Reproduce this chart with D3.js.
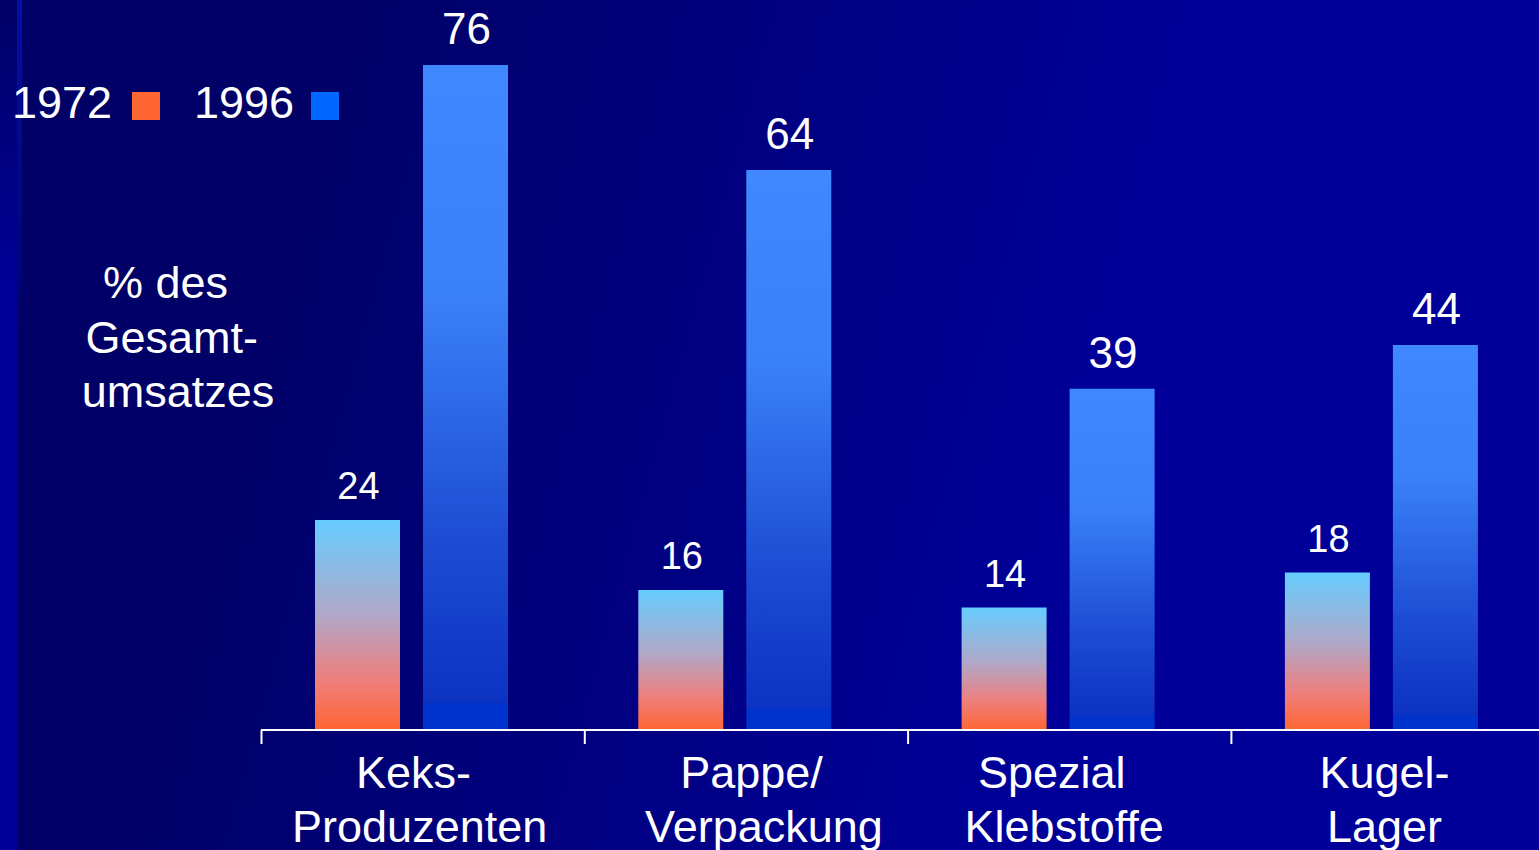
<!DOCTYPE html>
<html>
<head>
<meta charset="utf-8">
<script src="https://cdn.jsdelivr.net/npm/d3@7"></script>
<style>
  html, body { margin: 0; padding: 0; background: #000066; overflow: hidden; }
  svg { display: block; font-family: "Liberation Sans", Arial, sans-serif; }
</style>
</head>
<body>
<svg width="1539" height="850"></svg>
<script>
// data
var categories = ["Keks-\u00a0|Produzenten", "Pappe/\u00a0\u00a0|Verpackung", "Spezial\u00a0\u00a0|Klebstoffe", "Kugel-|Lager"];
var series = ["1972", "1996"];
var values1972 = [24, 16, 14, 18];
var values1996 = [76, 64, 39, 44];
var titleLines = ["% des\u00a0\u00a0", "Gesamt-\u00a0", "umsatzes"];

var W = 1539, H = 850;
// small nudges of the category text as on the slide
var labelShift = [-3, 18, -5, -8];

var svg = d3.select("svg");
var defs = svg.append("defs");

// background: dark navy on the left, brighter blue to the right
var bg = defs.append("linearGradient").attr("id", "bg")
  .attr("x1", "0").attr("y1", "0").attr("x2", "1").attr("y2", "0.15");
bg.append("stop").attr("offset", "0.2").attr("stop-color", "#000066");
bg.append("stop").attr("offset", "0.5").attr("stop-color", "#000080");
bg.append("stop").attr("offset", "0.78").attr("stop-color", "#000099");
bg.append("stop").attr("offset", "1").attr("stop-color", "#000099");

var strip = defs.append("linearGradient").attr("id", "strip")
  .attr("x1", "0").attr("y1", "0").attr("x2", "0").attr("y2", "1");
strip.append("stop").attr("offset", "0").attr("stop-color", "#000066");
strip.append("stop").attr("offset", "0.35").attr("stop-color", "#000099");
strip.append("stop").attr("offset", "1").attr("stop-color", "#000099");

var edge = defs.append("linearGradient").attr("id", "edge")
  .attr("x1", "0").attr("y1", "0").attr("x2", "0").attr("y2", "1");
edge.append("stop").attr("offset", "0").attr("stop-color", "#0011aa");
edge.append("stop").attr("offset", "0.4").attr("stop-color", "#000066");

var g72 = defs.append("linearGradient").attr("id", "g1972")
  .attr("x1", "0").attr("y1", "0").attr("x2", "0").attr("y2", "1");
g72.append("stop").attr("offset", "0").attr("stop-color", "#66ccff");
g72.append("stop").attr("offset", "0.45").attr("stop-color", "#b0a8c8");
g72.append("stop").attr("offset", "0.75").attr("stop-color", "#ec8080");
g72.append("stop").attr("offset", "1").attr("stop-color", "#ff6633");

var g96 = defs.append("linearGradient").attr("id", "g1996")
  .attr("x1", "0").attr("y1", "0").attr("x2", "0").attr("y2", "1");
g96.append("stop").attr("offset", "0").attr("stop-color", "#4088ff");
g96.append("stop").attr("offset", "0.35").attr("stop-color", "#3a80f8");
g96.append("stop").attr("offset", "0.7").attr("stop-color", "#1e4ed4");
g96.append("stop").attr("offset", "0.96").attr("stop-color", "#0c32c2");
g96.append("stop").attr("offset", "0.96").attr("stop-color", "#0033cc");
g96.append("stop").attr("offset", "1").attr("stop-color", "#0033cc");

svg.append("rect").attr("width", W).attr("height", H).attr("fill", "url(#bg)");
svg.append("rect").attr("width", 17).attr("height", H).attr("fill", "url(#strip)");
svg.append("rect").attr("x", 17).attr("width", 5).attr("height", H).attr("fill", "url(#edge)");

var baseY = 730;
var x = d3.scaleBand().domain(categories).range([261, 261 + 4 * 323.3]);
var xs = d3.scaleBand().domain(series).range([54, 247]).paddingInner(23 / 108);
var y = d3.scaleLinear().domain([0, 76]).range([baseY, 65]);

var rows = categories.map(function(c, i) {
  return [
    { cat: c, s: "1972", v: values1972[i] },
    { cat: c, s: "1996", v: values1996[i] }
  ];
});

var groups = svg.append("g").selectAll("g").data(rows).join("g")
  .attr("transform", function(d) { return "translate(" + x(d[0].cat) + ",0)"; });

groups.selectAll("rect").data(function(d) { return d; }).join("rect")
  .attr("x", function(d) { return xs(d.s); })
  .attr("y", function(d) { return y(d.v); })
  .attr("width", xs.bandwidth())
  .attr("height", function(d) { return baseY - y(d.v); })
  .attr("fill", function(d) { return "url(#g" + d.s + ")"; });

groups.selectAll("text").data(function(d) { return d; }).join("text")
  .attr("x", function(d) { return xs(d.s) + xs.bandwidth() / 2 + 1; })
  .attr("y", function(d) { return y(d.v) - 21; })
  .attr("text-anchor", "middle")
  .attr("fill", "#fff")
  .attr("font-size", function(d) { return d.s == "1972" ? 38 : 44; })
  .text(function(d) { return d.v; });

// category axis
var axis = d3.axisBottom(x).tickSize(14).tickSizeOuter(0).tickFormat("");
var ax = svg.append("g").attr("transform", "translate(0," + baseY + ")").call(axis);
ax.select(".domain").attr("stroke", "#fff").attr("stroke-width", 2)
  .attr("d", "M261,0H" + W);
ax.selectAll(".tick")
  .attr("transform", function(d) { return "translate(" + (x(d) + 0.5) + ",0)"; });
ax.selectAll(".tick line").attr("stroke", "#fff").attr("stroke-width", 2);

var catLabels = svg.append("g").selectAll("text").data(categories).join("text")
  .attr("text-anchor", "middle")
  .attr("fill", "#fff")
  .attr("font-size", 45);
catLabels.each(function(c, ci) {
  d3.select(this).selectAll("tspan").data(c.split("|")).join("tspan")
    .attr("x", x(c) + x.bandwidth() / 2 + labelShift[ci])
    .attr("y", function(d, i) { return 788 + i * 54; })
    .text(function(d) { return d; });
});

// y title
svg.append("g").selectAll("text").data(titleLines).join("text")
  .attr("x", 178)
  .attr("y", function(d, i) { return 298 + i * 54.5; })
  .attr("text-anchor", "middle")
  .attr("fill", "#fff")
  .attr("font-size", 45)
  .text(function(d) { return d; });

// legend
var legendColors = { "1972": "#ff6633", "1996": "#0066ff" };
var legendX = [12, 194];
var leg = svg.append("g").selectAll("g").data(series).join("g")
  .attr("transform", function(d, i) { return "translate(" + legendX[i] + ",0)"; });
leg.append("text")
  .attr("y", 118)
  .attr("fill", "#fff")
  .attr("font-size", 45)
  .text(function(d) { return d; });
leg.append("rect")
  .attr("x", function(d, i) { return i == 0 ? 120 : 117; })
  .attr("y", 92)
  .attr("width", 28)
  .attr("height", 28)
  .attr("fill", function(d) { return legendColors[d]; });
</script>
</body>
</html>
